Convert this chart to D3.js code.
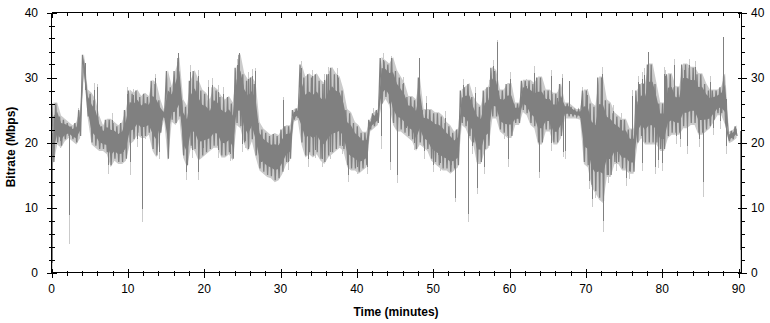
<!DOCTYPE html>
<html><head><meta charset="utf-8">
<script src="https://cdn.jsdelivr.net/npm/d3@7"></script>
<style>
html,body{margin:0;padding:0;background:#fff;}
svg text{font-family:"Liberation Sans",Arial,sans-serif;}
</style></head>
<body><svg id="c" width="770" height="323"></svg>
<script>
// time bins: 0.5 minute each, starting at 0
const binMinutes = 0.5;
// upper edge of the bitrate band (Mbps), one per half minute
const hiValues = [
 26,26,24,23.5,23,22.5,23,25,33.5,28,
 27.5,26.5,24,22.5,23.5,23.5,23,22.5,23,25,
 28,27.5,28,27,27.5,27,29.5,29,26.5,24.8,
 31,28.5,31,33,26.5,25.5,29.5,31,29.5,28,
 27.5,26.5,28.5,28,27,26.5,27,26,31.5,33.5,
 30.5,29.5,30,29,23,22,21.5,21,21.3,21,
 22,22.5,22.5,25,25.2,32,30,30.5,30,30.5,
 29.5,29,30.5,31.5,30.5,30,28,25,24.5,23,
 22.5,21.5,21.5,23.5,24.5,25,33,32.5,32,33,
 31,30,29,27,27,26.5,30,25,25,25,
 24.5,24.5,24,23,22.5,21.5,22,28,28.5,29,
 27,26,25.5,28,28.5,31.5,31,28,28,29,
 29,26,26,29.5,29.5,29.5,29,30,30,28,
 28,27.5,27.5,29,26,26,25.5,25,25,28,
 28,26,25.5,30,30,26.5,26,24.5,24,23.5,
 23.5,22,22,28,29,29,32,32,29,26,
 26,30.5,30.5,28.5,28.5,32,32,31.5,31.5,30.5,
 30.5,29,28,28,28,28.5,30.5,21.5,21.8,22.5
];
// lower edge of the bitrate band (Mbps)
const loValues = [
 17,20,19.5,20.5,21,20.5,20,21,31,24,
 20,19.5,19,19,18.5,16.5,17.5,17,17,17.5,
 20,20.5,21.5,21,21,21.5,19,18,21.5,23.8,
 17.5,23.5,23,24,18,16.5,19.5,19,17.5,18,
 18.5,19,19.5,19.5,18,18,18.5,17.5,23,22.5,
 20,19,20.5,18,16,15.5,15,14.8,14.2,14.5,
 15.5,17,17.5,23.5,23.8,20,18,18.5,18,18.5,
 17.5,17,18,18.5,19,19.5,19,16.5,16,16,
 15.5,16,16.5,22,22.5,23,26,27,26,23,
 22,22,21.5,21,20.5,19,20,19.5,19,17.5,
 17,16.5,16,16,15.5,16,16.5,23,22.5,21,
 20,17,17,19,19.5,24,24,22,21.5,21,
 21,23,23,25,24.5,23,22.5,20,20,22,
 22,20,20,21,24,24,24,24,23.8,17,
 16.5,13.5,12.5,11.5,11,15,15,17,17,16,
 16,15.5,15.5,20,21,20,20,20,20,19,
 19,21,21.5,21.5,21.5,22.5,22.5,23,23,21.5,
 21.5,22,22.5,23.5,24.5,24.5,23,20.2,20.5,21
];
// large isolated spikes: time (min), dark end (Mbps), light end (Mbps)
const spikeTimes = [0.05,2.35,6.0,7.4,10.3,11.85,13.5,16.6,17.6,19.2,24.6,26.6,30.3,38.8,43.2,44.3,45.3,48.1,52.9,54.6,55.8,58.3,63.9,66.9,67.0,67.8,72.2,78.2,85.4,88.0,90.2];
const spikeDark  = [1.5,8.8,28.5,16.5,17,9.8,30,33.7,15.5,15.5,33.7,31,26.5,15,21,17,15,33,11.5,9,13,35.5,15.5,30,18.5,29.5,8,34,14,36.2,3.5];
const spikeLight = [0,4.4,29,15.2,15,7.7,30.6,33.7,14.2,14.2,33.7,31.5,27,13.9,19,15.7,13.7,33,10.8,7.7,12.1,35.7,14.6,30.5,17.7,29.5,6.2,34,11.6,36.2,0];
// smaller peaks above the band: [time, Mbps]
const upPeaks = [[3.5,25.3],[4.45,29.1],[5.55,29.1],[7.9,24.5],[9.85,28.5],[10.7,28.3],[16.4,32.4],[18.15,31.9],[19.15,31.2],[20.55,29.6],[21.0,29.9],[21.8,28.8],[22.5,28.5],[24.3,32.9],[25.8,30.8],[26.3,31.3],[32.55,31.7],[32.7,32.5],[34.1,31.2],[35.65,30.6],[36.2,31.6],[37.35,31.4],[42.1,25.3],[43.45,33.7],[44.5,33.3],[46.1,30.1],[49.1,27.1],[51.5,24.8],[53.5,27.3],[53.9,29.8],[55.5,28.6],[57.25,29.6],[57.9,32.7],[60.05,30.8],[62.1,29.7],[63.2,31.7],[65.4,31.2],[66.2,27.8],[69.5,28.5],[70.2,28.3],[72.1,31.6],[73.55,25.8],[74.65,24.5],[76.0,28.1],[76.8,30.3],[77.3,30.8],[77.6,31.4],[80.2,31.6],[80.4,31.2],[81.6,32.9],[82.9,32.1],[83.5,32.9],[84.35,32.6],[86.3,30.3]];
// smaller dips below the band: [time, Mbps]
const downDips = [[1.1,19.1],[5.75,19.3],[8.7,17.2],[9.4,17.4],[11.2,19.3],[12.3,20.6],[14.05,17.4],[17.1,21.6],[18.4,17.6],[19.9,17.9],[21.85,17.6],[23.4,17.1],[24.9,18.6],[25.3,19.1],[27.4,15.8],[28.4,15.4],[28.9,14.9],[31.0,15.8],[33.6,16.3],[34.55,17.6],[35.4,16.3],[36.5,17.4],[38.0,18.2],[40.0,15.1],[40.7,16.1],[41.3,15.1],[46.45,21],[47.45,18.8],[48.85,17.5],[49.95,15.4],[50.6,16.9],[50.95,15.6],[51.7,15.8],[52.4,15.4],[55.1,18.3],[56.6,15.1],[59.25,20.5],[59.8,16.3],[65.4,18.7],[67.3,17.5],[70.4,12.9],[70.8,10.1],[71.25,11.4],[72.9,13.8],[74.0,15.6],[75.2,13.3],[75.7,14.4],[77.4,15.6],[79.0,15.1],[79.5,16.1],[80.0,15.6],[81.85,19.8],[82.4,19.3],[83.2,18.2],[84.8,19.3],[86.7,21.1],[87.6,22.1],[88.4,18.2]];
// axis ticks
const xMajor = [0,10,20,30,40,50,60,70,80,90];
const xMinor = [2,4,6,8,12,14,16,18,22,24,26,28,32,34,36,38,42,44,46,48,52,54,56,58,62,64,66,68,72,74,76,78,82,84,86,88];
const yMajor = [0,10,20,30,40];
const yMinor = [2,4,6,8,12,14,16,18,22,24,26,28,32,34,36,38];

const svg = d3.select("#c");
const x = d3.scaleLinear().domain([0,90]).range([51.5,738.5]);
const y = d3.scaleLinear().domain([0,40]).range([272.5,12.5]);
const dark = "#808080", light = "#cbcbcb";

const bins = hiValues.map((h,i)=>({t:i*binMinutes, hi:h, lo:loValues[i]}));
const binAt = t => bins[Math.max(0,Math.min(bins.length-1, Math.floor(t/binMinutes)))];
const px = t => Math.round(x(t))+0.5;

// light halo band (behind)
svg.append("path").datum(bins)
  .attr("fill", light)
  .attr("d", d3.area().x(d=>x(d.t+binMinutes/2)).y0(d=>y(d.lo)+2).y1(d=>y(d.hi)-1));

const spikes = spikeTimes.map((t,i)=>{ const b = binAt(t); return {t, mid:(b.hi+b.lo)/2, d:spikeDark[i], l:spikeLight[i]}; });
const small = upPeaks.map(([t,v])=>{ const b=binAt(t); return {t, mid:(b.hi+b.lo)/2, d:v-1, l:v}; })
  .concat(downDips.map(([t,v])=>{ const b=binAt(t); return {t, mid:(b.hi+b.lo)/2, d:v+1.2, l:v}; }));
const allSpikes = spikes.concat(small);

svg.append("g").attr("shape-rendering","crispEdges").selectAll("line").data(allSpikes).join("line")
  .attr("x1",d=>px(d.t)).attr("x2",d=>px(d.t))
  .attr("y1",d=>y(d.mid)).attr("y2",d=>y(d.l))
  .attr("stroke",light).attr("stroke-width",1);

// dark core of the band (inset), edges come from the zigzag trace
svg.append("path").datum(bins)
  .attr("fill", dark)
  .attr("d", d3.area().x(d=>x(d.t+binMinutes/2))
     .y0(d=>y(d.lo + (d.hi-d.lo)*0.22)).y1(d=>y(d.hi - (d.hi-d.lo)*0.22)));
// zigzag trace between upper and lower edge
const zz = [];
bins.forEach(b=>{ zz.push([b.t+0.06,b.hi]); zz.push([b.t+0.31,b.lo]); });
svg.append("path").datum(zz)
  .attr("fill","none").attr("stroke",dark).attr("stroke-width",1.3)
  .attr("d", d3.line().x(d=>x(d[0])).y(d=>y(d[1])));
svg.append("g").attr("shape-rendering","crispEdges").selectAll("line").data(allSpikes).join("line")
  .attr("x1",d=>px(d.t)).attr("x2",d=>px(d.t))
  .attr("y1",d=>y(d.mid)).attr("y2",d=>y(d.d))
  .attr("stroke",dark).attr("stroke-width",1);

// frame
const X0=51.5, X1=741.5, Y0=272.5, Y1=12.5;
const frame = svg.append("g").attr("stroke","#000").attr("stroke-width",1).attr("shape-rendering","crispEdges");
frame.append("line").attr("x1",X0).attr("x2",X0).attr("y1",Y1).attr("y2",Y0);
frame.append("line").attr("x1",X1).attr("x2",X1).attr("y1",Y1).attr("y2",Y0);
frame.append("line").attr("x1",X0).attr("x2",X1).attr("y1",Y0).attr("y2",Y0);
frame.append("line").attr("x1",X0).attr("x2",X1).attr("y1",Y1).attr("y2",Y1);

const tk = svg.append("g").attr("stroke","#000").attr("stroke-width",1).attr("shape-rendering","crispEdges");
xMajor.forEach(v=>tk.append("line").attr("x1",px(v)).attr("x2",px(v)).attr("y1",Y0-4).attr("y2",Y0+5));
xMinor.forEach(v=>tk.append("line").attr("x1",px(v)).attr("x2",px(v)).attr("y1",Y0-2).attr("y2",Y0+3));
xMajor.forEach(v=>tk.append("line").attr("x1",px(v)).attr("x2",px(v)).attr("y1",Y1).attr("y2",Y1+5));
xMinor.forEach(v=>tk.append("line").attr("x1",px(v)).attr("x2",px(v)).attr("y1",Y1).attr("y2",Y1+3));
const py = v => Math.round(y(v))+0.5;
yMajor.forEach(v=>tk.append("line").attr("y1",py(v)).attr("y2",py(v)).attr("x1",X0-5).attr("x2",X0+5));
yMinor.forEach(v=>tk.append("line").attr("y1",py(v)).attr("y2",py(v)).attr("x1",X0-3).attr("x2",X0+3));
yMajor.forEach(v=>tk.append("line").attr("y1",py(v)).attr("y2",py(v)).attr("x1",X1-4).attr("x2",X1+5));
yMinor.forEach(v=>tk.append("line").attr("y1",py(v)).attr("y2",py(v)).attr("x1",X1).attr("x2",X1+3));

// tick labels
const lab = svg.append("g").attr("font-size",12).attr("fill","#000");
xMajor.forEach(v=>lab.append("text").attr("x",x(v)).attr("y",293).attr("text-anchor","middle").text(v));
yMajor.forEach(v=>lab.append("text").attr("x",38).attr("y",y(v)+4.5).attr("text-anchor","end").text(v));
yMajor.forEach(v=>lab.append("text").attr("x",751).attr("y",y(v)+4.5).attr("text-anchor","start").text(v));

// titles
svg.append("text").attr("x",396).attr("y",316).attr("text-anchor","middle")
  .attr("font-size",12).attr("font-weight","bold").text("Time (minutes)");
svg.append("text").attr("transform","translate(15,147) rotate(-90)").attr("text-anchor","middle")
  .attr("font-size",12).attr("font-weight","bold").text("Bitrate (Mbps)");
</script></body></html>
